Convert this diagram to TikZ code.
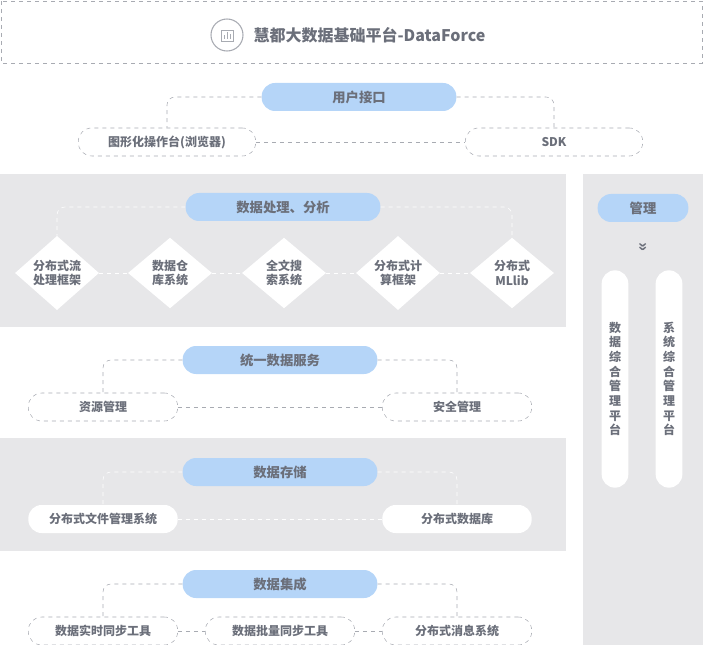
\documentclass[tikz,border=0pt]{standalone}
\usepackage{fontspec}
\setmainfont{Noto Sans CJK SC}
\usetikzlibrary{shapes.geometric}
\definecolor{txt}{HTML}{6B6F7A}
\definecolor{hd}{HTML}{B5D5F8}
\definecolor{panel}{HTML}{E7E7E9}
\definecolor{ln}{HTML}{A8ABB2}
\tikzset{
  head/.style={rounded corners=10pt, fill=hd, minimum width=146pt, minimum height=21pt, font=\normalsize\bfseries, text=txt},
  item/.style={rounded corners=10pt, draw=ln, dashed, minimum width=112pt, minimum height=21pt, font=\small\bfseries, text=txt},
  solid item/.style={rounded corners=10pt, fill=white, minimum width=112pt, minimum height=21pt, font=\small\bfseries, text=txt},
  gem/.style={diamond, fill=white, minimum width=63pt, minimum height=53pt, inner sep=0pt, font=\small\bfseries, text=txt, align=center},
  link/.style={draw=ln, dashed, rounded corners=6pt},
  wlink/.style={draw=white, dashed, rounded corners=6pt},
}
\begin{document}
\begin{tikzpicture}[x=0.75pt, y=-0.75pt]
    \useasboundingbox (0,0) rectangle (703,645);
    % panels
    \draw[ln, dashed] (1,1) rectangle (702,63);
    \fill[panel] (0,174) rectangle (566,327);
    \fill[panel] (0,438) rectangle (566,551);
    \fill[panel] (583,174) rectangle (703,645);

    % title
    \node[circle, draw=ln, thick, minimum size=24pt] (icon) at (227,35) {};
    \draw[ln] (221,30) rectangle (233,41);
    \draw[ln] (224,39) -- (224,35) (227,39) -- (227,32) (230,39) -- (230,34);
    \node[right=4pt, font=\large\bfseries, text=txt] (title) at (icon.east) {慧都大数据基础平台-DataForce};

    % user interface
    \node[head] (ui) at (359,97) {用户接口};
    \node[item, minimum width=133pt] (gui) at (167,142) {图形化操作台(浏览器)};
    \node[item, minimum width=133pt] (sdk) at (554,142) {SDK};
    \draw[link] (ui.west) -| (gui.north);
    \draw[link] (ui.east) -| (sdk.north);
    \draw[link] (gui) -- (sdk);

    % processing
    \node[head] (proc) at (283,207) {数据处理、分析};
    \node[gem] (d1) at (57,273) {分布式流\\处理框架};
    \node[gem] (d2) at (170,273) {数据仓\\库系统};
    \node[gem] (d3) at (284,273) {全文搜\\索系统};
    \node[gem] (d4) at (398,273) {分布式计\\算框架};
    \node[gem] (d5) at (512,273) {分布式\\MLlib};
    \draw[wlink] (proc.west) -| (d1.north);
    \draw[wlink] (proc.east) -| (d5.north);
    \foreach \a/\b in {d1/d2, d2/d3, d3/d4, d4/d5}
        \draw[wlink] (\a) -- (\b);

    % management
    \node[head, minimum width=68pt] (mgmt) at (643,208) {管理};
    \node[text=txt, rotate=-90, font=\large\bfseries] (chev) at (643,247) {»};
    \node[solid item, minimum width=20pt, minimum height=163pt, align=center] (p1) at (615,379) {数\\据\\综\\合\\管\\理\\平\\台};
    \node[solid item, minimum width=20pt, minimum height=163pt, align=center] (p2) at (669,379) {系\\统\\综\\合\\管\\理\\平\\台};

    % unified service
    \node[head] (svc) at (280,360) {统一数据服务};
    \node[item] (res) at (103,407) {资源管理};
    \node[item] (sec) at (457,407) {安全管理};
    \draw[link] (svc.west) -| (res.north);
    \draw[link] (svc.east) -| (sec.north);
    \draw[link] (res) -- (sec);

    % storage
    \node[head] (store) at (280,472) {数据存储};
    \node[solid item] (fs) at (103,519) {分布式文件管理系统};
    \node[solid item] (db) at (457,519) {分布式数据库};
    \draw[wlink] (store.west) -| (fs.north);
    \draw[wlink] (store.east) -| (db.north);
    \draw[wlink] (fs) -- (db);

    % integration
    \node[head] (integ) at (280,584) {数据集成};
    \node[item] (rt) at (103,631) {数据实时同步工具};
    \node[item] (batch) at (280,631) {数据批量同步工具};
    \node[item] (msg) at (457,631) {分布式消息系统};
    \draw[link] (integ.west) -| (rt.north);
    \draw[link] (integ.east) -| (msg.north);
    \draw[link] (rt) -- (batch);
    \draw[link] (batch) -- (msg);
\end{tikzpicture}
\end{document}
